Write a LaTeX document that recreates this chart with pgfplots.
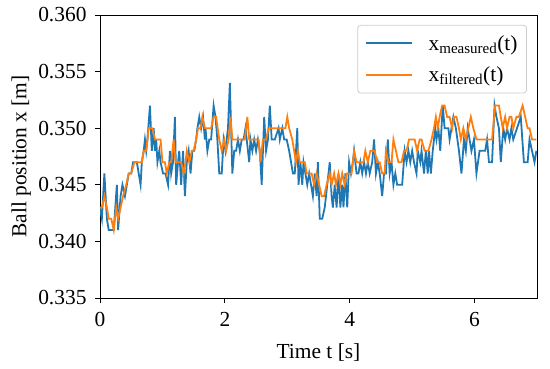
\documentclass[border=0pt]{standalone}
\usepackage{pgfplots}
\pgfplotsset{compat=1.18}
\usepackage{fontspec}
\setmainfont{Liberation Serif}
\definecolor{mblue}{HTML}{1F77B4}
\definecolor{morange}{HTML}{FF7F0E}
\begin{document}
\begin{tikzpicture}
\begin{axis}[
  name=main,
  scale only axis,
  width=437bp, height=283bp,
  xmin=0, xmax=7, ymin=0.335, ymax=0.360,
  xtick={0,2,4,6},
  ytick={0.335,0.340,0.345,0.350,0.355,0.360},
  scaled y ticks=false,
  yticklabel style={xshift=-5bp, /pgf/number format/.cd, fixed, fixed zerofill, precision=3, assume math mode=true},
  xticklabel style={yshift=-6bp, /pgf/number format/assume math mode=true},
  tick align=outside,
  xtick pos=bottom, ytick pos=left,
  major tick length=5bp,
  axis line style={line width=0.8pt},
  every tick/.style={line width=0.8pt, black},
  font=\fontsize{21.5}{25}\selectfont,
  xlabel={Time t [s]},
  ylabel={Ball position x [m]},
  xlabel style={at={(axis description cs:0.5,-0.191)}, anchor=center},
  ylabel style={at={(axis description cs:-0.18,0.5)}, anchor=center},
  legend style={at={(0.977,0.965)}, anchor=north east, draw=black!20, line width=0.8pt,
    rounded corners=3pt, font=\fontsize{21.5}{25}\selectfont, row sep=11bp,
    inner xsep=7bp, inner ysep=8bp},
  legend cell align=left,
  legend image code/.code={\draw[#1, line width=2pt] (0bp,0.3bp) -- (46bp,0.3bp); \path[draw=none, fill=none] (0bp,0bp) -- (61bp,0bp);},
]
\addplot[mblue, line width=1.8pt] coordinates {
(0.00,0.343)(0.03,0.342)(0.07,0.346)(0.11,0.342)(0.14,0.341)(0.16,0.341)(0.22,0.341)(0.27,0.345)(0.29,0.341)(0.33,0.344)
(0.36,0.345)(0.40,0.344)(0.43,0.345)(0.46,0.346)(0.50,0.346)(0.53,0.347)(0.59,0.347)(0.62,0.346)(0.65,0.345)(0.67,0.347)
(0.70,0.348)(0.72,0.349)(0.74,0.348)(0.76,0.349)(0.80,0.352)(0.83,0.348)(0.86,0.350)(0.88,0.348)(0.90,0.349)(0.92,0.347)
(0.95,0.348)(0.97,0.347)(1.01,0.346)(1.05,0.346)(1.09,0.345)(1.12,0.348)(1.14,0.346)(1.17,0.347)(1.20,0.351)(1.22,0.345)
(1.25,0.347)(1.27,0.348)(1.30,0.345)(1.33,0.348)(1.36,0.344)(1.39,0.347)(1.42,0.348)(1.45,0.346)(1.48,0.348)(1.51,0.348)
(1.54,0.349)(1.56,0.350)(1.59,0.351)(1.62,0.350)(1.65,0.351)(1.68,0.349)(1.69,0.350)(1.72,0.348)(1.75,0.349)(1.78,0.349)
(1.82,0.352)(1.85,0.351)(1.88,0.349)(1.91,0.346)(1.95,0.346)(1.98,0.349)(2.01,0.348)(2.05,0.350)(2.08,0.354)(2.12,0.346)
(2.15,0.348)(2.18,0.348)(2.21,0.349)(2.24,0.348)(2.27,0.349)(2.30,0.349)(2.33,0.350)(2.39,0.347)(2.41,0.349)(2.44,0.348)
(2.47,0.349)(2.50,0.348)(2.53,0.349)(2.56,0.348)(2.59,0.345)(2.63,0.351)(2.66,0.348)(2.69,0.349)(2.72,0.352)(2.75,0.349)
(2.80,0.349)(2.86,0.350)(2.88,0.349)(2.92,0.350)(2.95,0.349)(2.99,0.349)(3.03,0.348)(3.06,0.347)(3.09,0.346)(3.12,0.346)
(3.16,0.350)(3.18,0.345)(3.21,0.347)(3.24,0.345)(3.26,0.347)(3.29,0.346)(3.32,0.345)(3.35,0.346)(3.38,0.345)(3.41,0.344)
(3.44,0.346)(3.47,0.344)(3.49,0.347)(3.52,0.342)(3.56,0.342)(3.60,0.343)(3.64,0.345)(3.68,0.347)(3.71,0.344)(3.73,0.343)
(3.76,0.345)(3.79,0.343)(3.82,0.346)(3.85,0.343)(3.88,0.345)(3.90,0.343)(3.93,0.346)(3.96,0.343)(3.99,0.347)(4.02,0.346)
(4.05,0.347)(4.07,0.348)(4.11,0.346)(4.14,0.346)(4.17,0.347)(4.20,0.346)(4.23,0.347)(4.26,0.346)(4.29,0.347)(4.32,0.346)
(4.36,0.347)(4.39,0.349)(4.42,0.346)(4.45,0.347)(4.48,0.346)(4.52,0.344)(4.55,0.346)(4.58,0.346)(4.61,0.349)(4.64,0.346)
(4.67,0.347)(4.70,0.345)(4.73,0.346)(4.76,0.345)(4.84,0.345)(4.88,0.348)(4.91,0.347)(4.94,0.348)(4.97,0.347)(5.00,0.348)
(5.03,0.347)(5.07,0.346)(5.09,0.348)(5.13,0.347)(5.15,0.348)(5.19,0.346)(5.22,0.348)(5.25,0.346)(5.27,0.348)(5.30,0.346)
(5.33,0.348)(5.37,0.350)(5.39,0.349)(5.42,0.350)(5.45,0.348)(5.49,0.352)(5.52,0.350)(5.58,0.350)(5.60,0.349)(5.66,0.351)
(5.70,0.350)(5.75,0.348)(5.79,0.346)(5.83,0.349)(5.86,0.348)(5.89,0.350)(5.92,0.349)(5.95,0.348)(5.99,0.349)(6.03,0.346)
(6.08,0.348)(6.17,0.348)(6.20,0.349)(6.23,0.347)(6.28,0.347)(6.32,0.352)(6.35,0.351)(6.39,0.350)(6.42,0.347)(6.46,0.350)
(6.49,0.349)(6.52,0.350)(6.56,0.349)(6.59,0.350)(6.62,0.349)(6.68,0.350)(6.74,0.351)(6.79,0.347)(6.85,0.347)(6.88,0.349)
(6.92,0.348)(6.96,0.347)(6.99,0.348)
};
\addlegendentry{x\textsubscript{measured}(t)}
\addplot[morange, line width=1.8pt] coordinates {
(0.00,0.343)(0.03,0.343)(0.07,0.344)(0.11,0.343)(0.14,0.342)(0.18,0.342)(0.22,0.341)(0.26,0.343)(0.29,0.342)(0.33,0.343)
(0.37,0.344)(0.42,0.345)(0.46,0.346)(0.50,0.346)(0.55,0.347)(0.67,0.347)(0.70,0.348)(0.74,0.348)(0.78,0.350)(0.84,0.350)
(0.88,0.349)(0.97,0.349)(1.00,0.347)(1.04,0.347)(1.07,0.346)(1.11,0.347)(1.14,0.347)(1.18,0.349)(1.21,0.347)(1.30,0.347)
(1.34,0.346)(1.37,0.347)(1.39,0.348)(1.43,0.347)(1.47,0.348)(1.50,0.348)(1.54,0.349)(1.57,0.350)(1.61,0.350)(1.64,0.351)
(1.68,0.350)(1.78,0.350)(1.82,0.351)(1.86,0.351)(1.91,0.349)(1.95,0.348)(1.99,0.349)(2.02,0.348)(2.06,0.349)(2.09,0.351)
(2.12,0.349)(2.32,0.349)(2.36,0.351)(2.39,0.349)(2.54,0.349)(2.57,0.347)(2.61,0.349)(2.66,0.349)(2.70,0.350)(2.97,0.350)
(3.00,0.351)(3.03,0.350)(3.08,0.349)(3.14,0.347)(3.17,0.348)(3.20,0.347)(3.28,0.347)(3.31,0.346)(3.39,0.346)(3.43,0.345)
(3.47,0.346)(3.51,0.345)(3.55,0.344)(3.59,0.344)(3.63,0.345)(3.68,0.346)(3.71,0.345)(3.75,0.346)(3.78,0.345)(3.82,0.346)
(3.85,0.345)(3.88,0.346)(3.92,0.345)(3.95,0.346)(4.03,0.346)(4.07,0.348)(4.11,0.347)(4.22,0.347)(4.25,0.348)(4.29,0.347)
(4.33,0.348)(4.40,0.348)(4.44,0.347)(4.48,0.347)(4.52,0.346)(4.56,0.346)(4.58,0.348)(4.62,0.347)(4.67,0.347)(4.70,0.349)
(4.74,0.348)(4.78,0.347)(4.83,0.347)(4.87,0.348)(4.91,0.348)(4.95,0.349)(5.04,0.349)(5.08,0.348)(5.12,0.349)(5.15,0.349)
(5.20,0.348)(5.26,0.348)(5.31,0.349)(5.35,0.350)(5.38,0.351)(5.41,0.350)(5.44,0.351)(5.48,0.352)(5.52,0.352)(5.56,0.351)
(5.60,0.351)(5.64,0.350)(5.67,0.351)(5.71,0.351)(5.75,0.350)(5.78,0.349)(5.82,0.350)(5.86,0.349)(5.90,0.350)(5.94,0.351)
(5.98,0.350)(6.03,0.349)(6.28,0.349)(6.33,0.352)(6.39,0.352)(6.42,0.351)(6.45,0.350)(6.49,0.351)(6.52,0.350)(6.56,0.351)
(6.59,0.351)(6.62,0.350)(6.67,0.351)(6.71,0.351)(6.77,0.352)(6.81,0.351)(6.85,0.350)(6.88,0.350)(6.92,0.349)(6.99,0.349)
};
\addlegendentry{x\textsubscript{filtered}(t)}
\end{axis}
\pgfresetboundingbox
\useasboundingbox ([xshift=-100bp,yshift=-70bp]main.south west) rectangle ([xshift=13bp,yshift=15bp]main.north east);
\end{tikzpicture}
\end{document}
